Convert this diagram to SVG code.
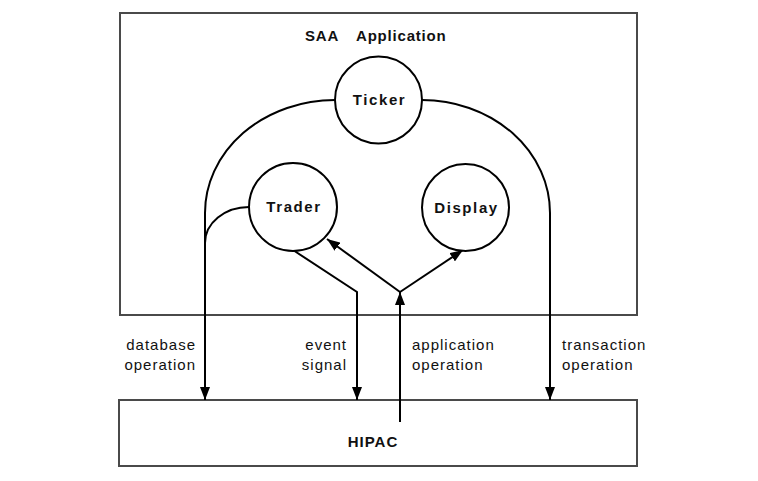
<svg xmlns="http://www.w3.org/2000/svg" width="758" height="481" viewBox="0 0 758 481">
<style>
.box{fill:#fff;stroke:#4a4a4a;stroke-width:2}
.node{fill:#fff;stroke:#000;stroke-width:2}
.conn{fill:none;stroke:#000;stroke-width:2}
.b{font-family:"Liberation Sans",Arial,sans-serif;font-weight:bold;font-size:15px;fill:#111}
.lab{font-family:"Liberation Sans",Arial,sans-serif;font-size:15px;letter-spacing:1px;fill:#111}
</style>
<defs>
<marker id="ah" viewBox="0 0 13 10" refX="13" refY="5" markerWidth="13" markerHeight="10" markerUnits="userSpaceOnUse" orient="auto">
<path d="M0,0 L13,5 L0,10 z" fill="#000"/>
</marker>
</defs>
<g id="saa">
<rect class="box" x="120" y="13" width="517" height="302"/>
<text class="b" x="305" y="41" style="letter-spacing:0.8px">SAA</text>
<text class="b" x="356" y="41" style="letter-spacing:0.8px">Application</text>
</g>
<g id="hipac">
<rect class="box" x="119" y="400" width="518" height="66"/>
<text class="b" x="373" y="447" text-anchor="middle" style="letter-spacing:1px">HIPAC</text>
</g>
<g id="connectors">
<path class="conn" d="M335,100 A130,113 0 0 0 205,213 L205,400" marker-end="url(#ah)"/>
<path class="conn" d="M249,207 A44,36 0 0 0 205,243"/>
<path class="conn" d="M422,100 A128,113 0 0 1 550,213 L550,400" marker-end="url(#ah)"/>
<path class="conn" d="M293,250 L357,292 L357,400" marker-end="url(#ah)"/>
<path class="conn" d="M400,422 L400,292" marker-end="url(#ah)"/>
<path class="conn" d="M400,292 L327,239" marker-end="url(#ah)"/>
<path class="conn" d="M400,292 L463,250" marker-end="url(#ah)"/>
</g>
<g id="ticker">
<circle class="node" cx="378.5" cy="100" r="43.5"/>
<text class="b" x="379.5" y="105" text-anchor="middle" style="letter-spacing:1.6px">Ticker</text>
</g>
<g id="trader">
<circle class="node" cx="293" cy="207" r="44"/>
<text class="b" x="294" y="212" text-anchor="middle" style="letter-spacing:1.6px">Trader</text>
</g>
<g id="display">
<circle class="node" cx="465.5" cy="207.5" r="43.5"/>
<text class="b" x="466.5" y="213" text-anchor="middle" style="letter-spacing:1.6px">Display</text>
</g>
<g id="labels">
<text class="lab" x="196" y="350" text-anchor="end">database</text>
<text class="lab" x="196" y="370" text-anchor="end">operation</text>
<text class="lab" x="347" y="350" text-anchor="end">event</text>
<text class="lab" x="347" y="370" text-anchor="end">signal</text>
<text class="lab" x="412" y="350">application</text>
<text class="lab" x="412" y="370">operation</text>
<text class="lab" x="562" y="350">transaction</text>
<text class="lab" x="562" y="370">operation</text>
</g>
</svg>
